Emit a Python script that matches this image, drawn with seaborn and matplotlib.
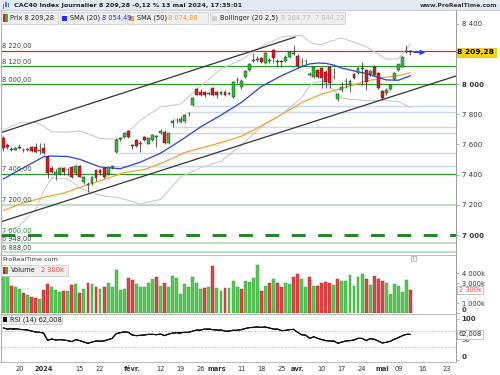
import numpy as np
import pandas as pd
import matplotlib
matplotlib.use("Agg")
import matplotlib.pyplot as plt
import seaborn as sns
from matplotlib.patches import Rectangle
from matplotlib.collections import LineCollection

sns.set_theme(style="white")
plt.rcParams['font.family'] = ['DejaVu Sans']

# ---------------- data ----------------
opens = [7641,7596,7565,7566,7585,7560,7565,7585,7585,7555,
         7576,7519,7444,7398,7404,7446,7430,7453,7410,7459,
         7353,7330,7343,7431,7431,7442,7402,7448,7552,7636,
         7647,7691,7598,7629,7605,7647,7606,7629,7650,7678,
         7684,7607,7745,7760,7750,7752,7805,7861,7965,7950,
         7945,7932,7972,7945,7932,7949,7935,7916,8024,7978,
         8048,8093,8155,8160,8174,8137,8155,8225,8145,8150,
         8152,8181,8200,8187,8145,8150,8058,8048,8093,8104,
         8081,8115,8045,7901,7960,8018,7993,8064,8071,8100,
         8093,8064,8115,8071,7954,7938,7967,8033,8093,8115,
         8212,8217]
highs = [7656,7610,7580,7582,7600,7576,7578,7592,7609,7612,
         7609,7530,7455,7440,7450,7452,7446,7460,7465,7465,
         7392,7350,7392,7438,7440,7450,7460,7457,7640,7646,
         7685,7695,7605,7635,7620,7655,7650,7670,7660,7700,
         7695,7676,7770,7775,7785,7800,7815,7915,7975,7965,
         7955,7950,7980,7952,7955,7958,7950,8020,8045,8030,
         8092,8140,8203,8185,8180,8210,8175,8230,8165,8160,
         8190,8218,8258,8200,8170,8165,8080,8120,8100,8110,
         8090,8120,8104,7940,8015,8040,8030,8070,8110,8148,
         8100,8095,8125,8080,7960,7975,8000,8078,8135,8187,
         8259,8225]
lows = [7556,7570,7558,7560,7570,7552,7558,7550,7545,7535,
        7536,7378,7408,7364,7398,7400,7400,7380,7400,7382,
        7340,7287,7330,7360,7400,7375,7395,7440,7543,7625,
        7640,7645,7570,7583,7552,7620,7600,7620,7580,7670,
        7600,7600,7716,7740,7740,7745,7785,7854,7925,7920,
        7915,7925,7920,7909,7925,7920,7925,7905,8010,7970,
        8040,8085,8148,8145,8140,8130,8140,8137,8115,8115,
        8145,8175,8190,8115,8120,8130,8050,8040,8040,7972,
        7972,7972,8035,7890,7950,7975,7950,8030,8065,7993,
        7960,8055,8050,7970,7900,7930,7960,8025,8085,8110,
        8205,8195]
closes = [7574,7585,7572,7574,7576,7566,7572,7558,7552,7565,
          7543,7409,7420,7420,7444,7420,7432,7386,7459,7386,
          7386,7335,7386,7376,7409,7386,7453,7455,7629,7640,
          7678,7651,7590,7590,7610,7629,7640,7662,7652,7690,
          7607,7673,7752,7765,7770,7795,7810,7909,7930,7930,
          7925,7940,7927,7927,7945,7927,7938,8011,8028,8022,
          8086,8130,8160,8162,8148,8203,8160,8170,8151,8148,
          8181,8210,8205,8121,8148,8152,8066,8115,8048,8038,
          8015,8005,8048,7932,7982,8020,8020,8038,8104,8104,
          8015,8086,8060,7976,7909,7960,7993,8071,8130,8181,
          8219,8209.28]
volume_k = [3800,3800,2730,2630,2370,2030,1800,1570,1470,1400,
            2300,2870,2570,2300,2070,2230,2230,2800,2870,1970,
            2400,2970,2870,2570,2400,2570,2970,2570,4300,2300,
            2400,3470,3300,2870,2570,2570,2970,3400,3570,2700,
            3030,2570,3700,3470,1900,2900,2570,3570,3030,2400,
            2530,2570,4730,2470,2230,2470,2530,3230,2570,2400,
            3230,3070,3470,4800,2230,2730,3030,3370,3030,2630,
            2970,2900,3570,3900,3370,2630,3570,2700,2730,2970,
            3070,2970,2800,3370,3230,3230,3800,2730,3570,3870,
            3400,2800,3730,3400,3230,2970,1900,2900,2700,2070,
            3300,2300]
rsi14 = [77.5,75,75.8,75.8,74.2,73.4,72.6,70,67.7,66.9,
         65,47,50.6,48,49,48,46.5,44,49,46.5,
         43,40,43,45.7,45,45.7,49,52,63.6,66,
         67.7,66.9,60.3,58.7,59.5,60.3,62,62,61,62.7,
         58.7,62.7,65,66,66,66.9,66.9,70,72.6,72.6,
         75,75,73.4,72.6,72.6,70,70,72,72,73.4,
         76,78.3,79,79.9,79,79.9,77.5,75,75,71,
         71.7,73.4,74.2,66.9,61,60,52,56,52,49,
         46.5,45.7,45.7,40,43,45.7,46.5,48,52.2,52.2,
         46.5,51.4,49.8,45.7,40.8,42.4,45,49.8,53.8,58.7,
         62,62.008]

sma20_idx = [0,4,8,10,12,16,19,24,29,34,39,44,49,54,59,64,69,74,76,78,80,82,84,90,95,98,101]
sma20_val = [7371,7431,7489,7519,7523,7520,7501,7451,7439,7483,7542,7626,7717,7794,7877,
             7983,8055,8115,8133,8139,8137,8125,8105,8069,8027,8025,8054.49]
sma50_idx = [0,5,10,15,20,25,30,35,40,45,49,54,59,64,69,74,79,84,89,94,99,101]
sma50_val = [7163,7212,7249,7278,7325,7368,7414,7434,7484,7547,7576,7612,7654,7723,7798,
             7877,7934,7972,8012,8042,8061,8074.88]
bb_idx = [0,4,8,10,12,16,19,24,29,34,39,44,49,54,59,64,69,74,76,77,78,79,80,81,82,83,84,90,95,98,101]
bb_upper = [7695,7744,7747,7720,7684,7681,7690,7640,7633,7760,7848,7868,7987,8100,8160,8247,
            8312,8322,8279,8267,8263,8260,8272,8283,8288,8300,8305,8248,8164,8166,8264.77]
bb_lower = [7020,7060,7170,7290,7380,7370,7312,7263,7245,7206,7236,7384,7447,7488,7594,7718,
            7799,7909,7987,8009,8015,8020,8002,7977,7962,7926,7905,7890,7890,7884,7844.22]

channel_up_idx = [-0.57, 72.4]
channel_up_val = [7678, 8311]
channel_lo_idx = [-0.57, 112.3]
channel_lo_val = [7088, 8053]

gap_start_idx = [27, 28, 41, 42, 46, 47]
gap_price = [7457, 7543, 7676, 7716, 7815, 7854]

levels = [8220, 8120, 8000, 7406, 7200, 7000, 6948, 6888]
level_labels = ["8 220,00", "8 120,00", "8 000,00", "7 406,00", "7 200,00", "7 000,00", "6 948,00", "6 888,00"]
level_kind = ["red", "green", "green", "green", "light", "dash", "light", "light"]

price_ticks = [8400, 8000, 7800, 7600, 7400, 7200, 7000]
price_tick_labels = ["8 400", "8 000", "7 800", "7 600", "7 400", "7 200", "7 000"]
vol_ticks = [0, 1000, 3000, 4000]
vol_tick_labels = ["0", "1 000k", "3 000k", "4 000k"]
rsi_ticks = [0, 50, 100]
rsi_tick_labels = ["0", "50", "100"]

date_pos = [4, 10, 19, 24, 32, 39, 44, 49, 53, 59, 64, 69, 73, 79, 84, 89, 94, 98, 104, 110]
date_labels = ['20', '2024', '15', '22', 'févr.', '12', '19', '26', 'mars', '11', '18', '25',
               'avr.', '10', '17', '24', 'mai', '09', '16', '23']
bold_dates = {'2024', 'févr.', 'mars', 'avr.', 'mai'}

last_price = closes[-1]

# ---------------- layout ----------------
W, H = 500, 375
fig = plt.figure(figsize=(5, 3.75), dpi=100)
fig.patch.set_facecolor('white')

def fx(px):
    return px / W

def fy(py):
    return 1 - py / H

def add_axes(y_top, y_bot):
    a = fig.add_axes([fx(1), fy(y_bot), fx(456) - fx(1), fy(y_top) - fy(y_bot)])
    a.set_facecolor('white')
    for s in a.spines.values():
        s.set_visible(False)
    return a

XMIN, XMAX = -0.57, 112.3
n = len(closes)
idx = np.arange(n)

# RSI panel first (its own axes)
axr = add_axes(314, 362)
axr.set_xlim(XMIN, XMAX)
axr.set_ylim(-5.9, 111.8)
axr.axhline(70, color='#b0b0b0', lw=0.6, ls=(0, (2, 2)), zorder=1)
axr.axhline(30, color='#b0b0b0', lw=0.6, ls=(0, (2, 2)), zorder=1)
rsi_arr = np.array(rsi14, float)
xs = idx.astype(float)
segs = np.stack([np.column_stack([xs[:-1], rsi_arr[:-1]]), np.column_stack([xs[1:], rsi_arr[1:]])], axis=1)
axr.add_collection(LineCollection(segs, colors='#111111', linewidths=0.75, zorder=4))
for s0 in range(0, n - 1, 8):
    s1 = min(s0 + 9, n)
    axr.plot(xs[s0:s1], rsi_arr[s0:s1], color='#111111', lw=0.75, zorder=4)
sns.lineplot(x=xs, y=rsi_arr, ax=axr, color='#111111', linewidth=0.75, errorbar=None, zorder=4)
axr.set_xlim(XMIN, XMAX)
axr.set_ylim(-5.9, 111.8)

ax = add_axes(10, 255)
axv = add_axes(255, 313)

o = np.array(opens, float); c = np.array(closes, float)
hi = np.array(highs, float); lo = np.array(lows, float)

# ---------------- main panel ----------------
GREEN_L = '#2e9a2e'
for lv, kind in zip(levels, level_kind):
    if kind == 'red':
        ax.axhline(lv, color='#e02828', lw=0.9, zorder=1)
    elif kind == 'green':
        ax.axhline(lv, color=GREEN_L, lw=0.9, zorder=1)
    elif kind == 'light':
        ax.axhline(lv, color='#a8d8a8', lw=1.1, zorder=1)
    else:
        ax.axhline(lv, color='#17801a', lw=2.0, ls=(0, (5, 4.5)), zorder=1)
for lv, lab, kind in zip(levels, level_labels, level_kind):
    ax.text(-0.3, lv + 9, lab, fontsize=4.8, va='bottom', ha='left',
            color=('#2e8b2e' if kind == 'dash' else '#444444'), zorder=6)

for gi, gp in zip(gap_start_idx, gap_price):
    ax.hlines(gp, gi, XMAX, color='#c6d6f6', lw=1.0, zorder=1)

df_bb = pd.DataFrame({'i': bb_idx, 'up': bb_upper, 'lo': bb_lower})
sns.lineplot(data=df_bb, x='i', y='up', ax=ax, color='#cccccc', lw=0.8, zorder=2)
sns.lineplot(data=df_bb, x='i', y='lo', ax=ax, color='#cccccc', lw=0.8, zorder=2)
sns.lineplot(x=sma50_idx, y=sma50_val, ax=ax, color='#ffa031', lw=0.9, zorder=3)
sns.lineplot(x=sma20_idx, y=sma20_val, ax=ax, color='#2a3cf0', lw=0.9, zorder=3)
sns.lineplot(x=channel_up_idx, y=channel_up_val, ax=ax, color='#333333', lw=0.9, zorder=3)
sns.lineplot(x=channel_lo_idx, y=channel_lo_val, ax=ax, color='#333333', lw=0.9, zorder=3)

up = c >= o
ax.vlines(idx, lo, hi, color='#222222', lw=0.5, zorder=4)
body_h = np.maximum(np.abs(c - o), 3)
ax.bar(idx, body_h, bottom=np.minimum(o, c), width=0.72,
       color=np.where(up, '#2cc22c', '#e8141b'), edgecolor='#222222', lw=0.3, zorder=5)

ax.annotate('', xy=(105.4, last_price), xytext=(101.2, last_price),
            arrowprops=dict(arrowstyle='-|>', color='#2040e8', lw=0.9, mutation_scale=7), zorder=7)

ax.set_xlim(XMIN, XMAX)
ax.set_ylim(6868, 8490)
ax.yaxis.tick_right()
ax.set_yticks(price_ticks)
ax.set_yticklabels(price_tick_labels)
ax.set_xticks([])
ax.set_xlabel(''); ax.set_ylabel('')
ax.tick_params(axis='y', which='both', direction='out', length=2.5, width=0.5, color='#999999',
               labelsize=5, pad=1.5, labelcolor='#333333', right=True, left=False)
for t in ax.get_yticklabels():
    if t.get_text() in ('8 000', '7 000'):
        t.set_fontweight('bold')
ax.text(1.003, last_price, '8 209,28', transform=ax.get_yaxis_transform(), fontsize=5.4,
        fontweight='bold', va='center', ha='left', color='black', clip_on=False, zorder=8,
        bbox=dict(boxstyle='square,pad=0.18', fc='#f6d30a', ec='#d4b000', lw=0.4))

# ---------------- volume panel ----------------
prev = np.r_[c[0] - 1, c[:-1]]
vcol = np.where(c >= prev, '#55c855', '#d94848')
vedge = np.where(c >= prev, '#2f9a2f', '#a82020')
axv.bar(idx, volume_k, width=0.72, color=vcol, edgecolor=vedge, lw=0.3, zorder=2)
axv.set_xlim(XMIN, XMAX)
axv.set_ylim(0, 5800)
axv.yaxis.tick_right()
axv.set_yticks(vol_ticks)
axv.set_yticklabels(vol_tick_labels)
axv.set_xticks([])
axv.tick_params(axis='y', direction='out', length=2.5, width=0.5, color='#999999',
                labelsize=4.8, pad=1.5, labelcolor='#333333', right=True, left=False)
for t in axv.get_yticklabels():
    if t.get_text() == '0':
        t.set_fontweight('bold'); t.set_va('bottom')
axv.text(1.006, 2300, '2 300k', transform=axv.get_yaxis_transform(), fontsize=4.8,
         va='center', ha='left', color='#e04848', clip_on=False, zorder=8,
         bbox=dict(boxstyle='square,pad=0.2', fc='white', ec='#999999', lw=0.4))

# ---------------- RSI axis decorations ----------------
axr.yaxis.tick_right()
axr.set_yticks(rsi_ticks)
axr.set_yticklabels(rsi_tick_labels)
axr.set_xlabel(''); axr.set_ylabel('')
axr.tick_params(axis='y', direction='out', length=2.5, width=0.5, color='#999999',
                labelsize=5, pad=1.5, labelcolor='#333333', right=True, left=False)
for t in axr.get_yticklabels():
    if t.get_text() in ('0', '100'):
        t.set_fontweight('bold')
    if t.get_text() == '0':
        t.set_va('bottom')
axr.text(1.006, rsi14[-1], '62,008', transform=axr.get_yaxis_transform(), fontsize=4.8,
         va='center', ha='left', color='#222222', clip_on=False, zorder=8,
         bbox=dict(boxstyle='square,pad=0.2', fc='white', ec='#999999', lw=0.4))
axr.set_xticks(date_pos)
axr.set_xticklabels(date_labels)
axr.tick_params(axis='x', length=0, labelsize=4.8, pad=3, labelcolor='#333333', bottom=True)
for t in axr.get_xticklabels():
    if t.get_text() in bold_dates:
        t.set_fontweight('bold')

# ---------------- frame / decorations ----------------
def frect(x0, y0, x1, y1, fc, ec='none', lw=0.5, z=10):
    fig.add_artist(Rectangle((fx(x0), fy(y1)), fx(x1) - fx(x0), fy(y0) - fy(y1),
                             transform=fig.transFigure, facecolor=fc, edgecolor=ec, lw=lw, zorder=z))

def fline(x0, y0, x1, y1, color='#a0a0a0', lw=0.6, z=9):
    fig.add_artist(plt.Line2D([fx(x0), fx(x1)], [fy(y0), fy(y1)], transform=fig.transFigure,
                              color=color, lw=lw, zorder=z))

def ftext(x, y, s, **kw):
    kw.setdefault('va', 'center')
    kw.setdefault('zorder', 12)
    fig.text(fx(x), fy(y), s, **kw)

# title bar
frect(0, 0, 500, 10, '#e2ebf4', z=10)
fline(0, 10, 500, 10, '#b8c4d0', 0.6)
frect(3, 4, 4.2, 8.5, '#3d7fd8', z=11)
frect(5.3, 2.5, 6.5, 7, '#3d7fd8', z=11)
frect(7.6, 3.5, 8.8, 6.5, '#3d7fd8', z=11)
ftext(14, 5.3, 'CAC40 Index Journalier 8 209,28 -0,12 % 13 mai 2024, 17:35:01',
      fontsize=4.6, fontweight='bold', color='#222222')
ftext(497, 5.3, 'www.ProRealTime.com', fontsize=4.3, fontweight='bold', color='#333333', ha='right')

# panel frame lines
fline(0.5, 10, 0.5, 362, '#b0b0b0', 0.8)
fline(456, 10, 456, 362, '#9a9a9a', 0.7)
fline(0, 255, 456, 255, '#b0b0b0', 0.6)
fline(0, 313.5, 456, 313.5, '#b0b0b0', 0.6)
fline(0, 362, 456, 362, '#b0b0b0', 0.6)

# legend row (main panel)
LB, LE = '#efefef', '#c8c8c8'
frect(1, 12, 58, 24, LB, LE, 0.5)
frect(2.5, 14.5, 5, 21.5, '#d62020', z=11)
frect(5, 14.5, 7.5, 21.5, '#2cb82c', z=11)
ftext(10.5, 18.2, 'Prix 8 209,28', fontsize=4.8, color='#222222')
frect(60, 12, 125, 24, LB, LE, 0.5)
frect(62, 15.5, 67, 20.5, '#1f2ff0', z=11)
ftext(69.5, 18.2, 'SMA (20)', fontsize=4.8, color='#222222')
ftext(102.5, 18.2, '8 054,49', fontsize=4.8, color='#2030f0')
frect(127, 12, 208, 24, LB, LE, 0.5)
frect(128.5, 15.5, 133.5, 20.5, '#ff9a1a', z=11)
ftext(137, 18.2, 'SMA (50)', fontsize=4.8, color='#222222')
ftext(168, 18.2, '8 074,88', fontsize=4.8, color='#ff9a1a')
frect(210, 12, 345, 24, LB, LE, 0.5)
frect(211.5, 15.5, 216.5, 20.5, '#cfcfcf', z=11)
ftext(220, 18.2, 'Bollinger (20 2,5)', fontsize=4.8, color='#222222')
ftext(281, 18.2, '8 264,77  7 844,22', fontsize=4.8, color='#bdbdbd')

# volume legend
ftext(2, 259.5, 'ProRealTime.com', fontsize=4.6, color='#333333')
frect(1, 264.5, 68, 276, LB, LE, 0.5)
frect(2.5, 266.5, 5, 273.5, '#d62020', z=11)
frect(5, 266.5, 7.5, 273.5, '#2cb82c', z=11)
ftext(11, 270.3, 'Volume', fontsize=4.8, color='#222222')
ftext(41, 270.3, '2 300k', fontsize=4.8, color='#e04848')
frect(410.5, 255.5, 415.5, 260.5, 'white', '#888888', 0.4)
ftext(413, 258.2, 'i', fontsize=3.5, color='#666666', ha='center')

# RSI legend
frect(1, 315, 62, 324, LB, LE, 0.5)
frect(2.5, 316.8, 7, 322.2, '#111111', z=11)
ftext(10, 319.6, 'RSI (14) 62,008', fontsize=4.8, color='#222222')

fig.savefig('out.png', dpi=100, facecolor='white')
